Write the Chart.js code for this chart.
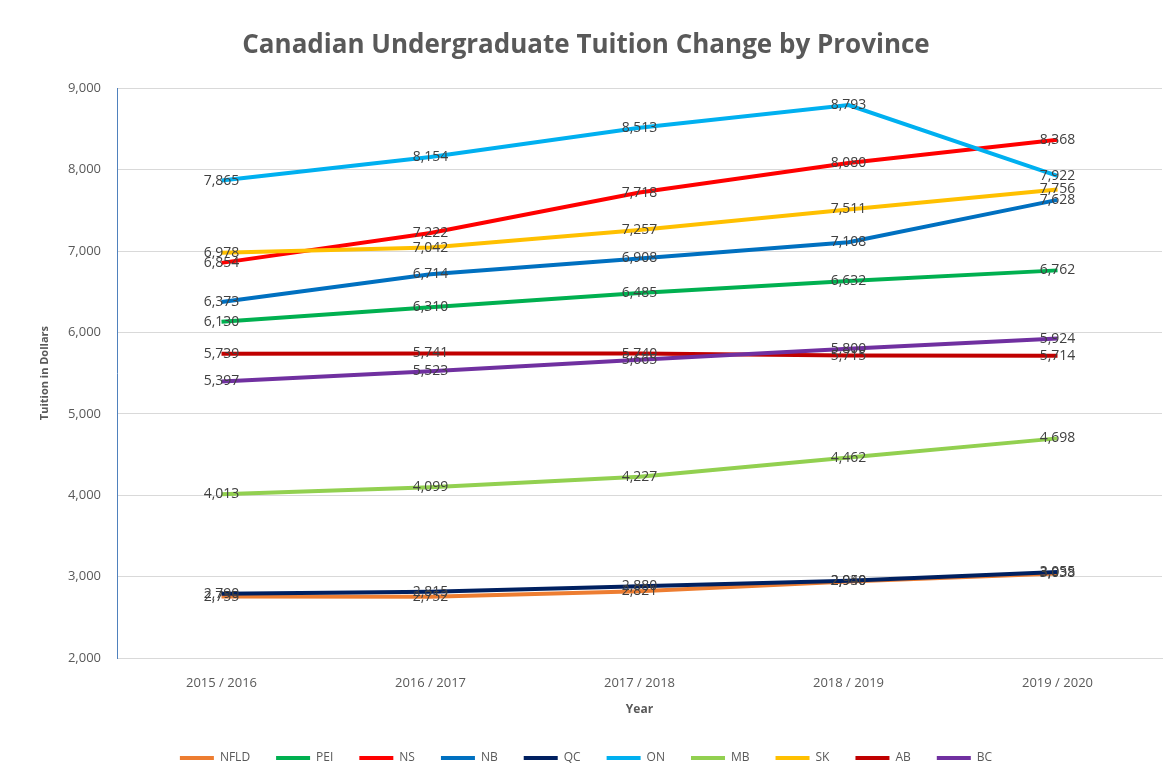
<!DOCTYPE html>
<html><head><meta charset="utf-8">
<script src="https://cdn.jsdelivr.net/npm/chart.js@4/dist/chart.umd.min.js"></script>
<style>html,body{margin:0;padding:0;background:#fff}canvas{display:block}</style>
</head><body>
<canvas id="c" width="1176" height="782"></canvas>
<script>
const years = ['2015 / 2016', '2016 / 2017', '2017 / 2018', '2018 / 2019', '2019 / 2020'];
const provinces = ['NFLD', 'PEI', 'NS', 'NB', 'QC', 'ON', 'MB', 'SK', 'AB', 'BC'];
const NFLD = [2755, 2752, 2821, 2940, 3038];
const PEI  = [6130, 6310, 6485, 6632, 6762];
const NS   = [6854, 7222, 7718, 8080, 8368];
const NB   = [6373, 6714, 6908, 7108, 7628];
const QC   = [2790, 2815, 2880, 2950, 3055];
const ON   = [7865, 8154, 8513, 8793, 7922];
const MB   = [4013, 4099, 4227, 4462, 4698];
const SK   = [6978, 7042, 7257, 7511, 7756];
const AB   = [5739, 5741, 5740, 5715, 5714];
const BC   = [5397, 5523, 5665, 5800, 5924];
const yMin = 2000, yMax = 9000, yStep = 1000;
const colors = ['#ED7D31', '#00B050', '#FF0000', '#0070C0', '#002060', '#00B0F0', '#92D050', '#FFC000', '#C00000', '#7030A0'];
const seriesValues = [NFLD, PEI, NS, NB, QC, ON, MB, SK, AB, BC];

const fmt = v => v.toLocaleString('en-US');
const FONT = '"Open Sans", "Liberation Sans", sans-serif';

const datasets = provinces.map((p, i) => ({
  label: p,
  data: seriesValues[i],
  borderColor: colors[i],
  backgroundColor: colors[i],
  borderWidth: 4,
  pointRadius: 0,
  pointHoverRadius: 0,
  tension: 0,
  order: -i
}));

const labelPlugin = {
  id: 'valueLabels',
  afterDatasetsDraw(chart) {
    const ctx = chart.ctx;
    ctx.save();
    ctx.font = '14px ' + FONT;
    ctx.fillStyle = '#404040';
    ctx.textAlign = 'center';
    ctx.textBaseline = 'middle';
    chart.data.datasets.forEach((ds, i) => {
      const meta = chart.getDatasetMeta(i);
      meta.data.forEach((pt, j) => {
        ctx.fillText(fmt(ds.data[j]), pt.x, pt.y);
      });
    });
    ctx.restore();
  }
};

new Chart(document.getElementById('c'), {
  type: 'line',
  data: { labels: years, datasets },
  options: {
    responsive: false,
    animation: false,
    layout: { padding: { left: 10, right: 14, top: 18, bottom: 8 } },
    plugins: {
      tooltip: { enabled: false },
      title: {
        display: true,
        text: 'Canadian Undergraduate Tuition Change by Province',
        color: '#595959',
        font: { family: FONT, size: 26, weight: 'bold' },
        padding: { top: 12, bottom: 27 }
      },
      legend: {
        position: 'bottom',
        labels: {
          color: '#595959',
          font: { family: FONT, size: 12 },
          boxWidth: 34,
          boxHeight: 4,
          padding: 26,
          generateLabels(chart) {
            return chart.data.datasets.map((ds, i) => ({
              text: ds.label,
              fillStyle: ds.borderColor,
              strokeStyle: ds.borderColor,
              lineWidth: 0,
              hidden: false,
              datasetIndex: i,
              fontColor: '#595959'
            }));
          }
        }
      }
    },
    scales: {
      x: {
        offset: true,
        grid: { display: false, drawTicks: false },
        border: { display: true, color: '#d9d9d9' },
        ticks: { color: '#595959', font: { family: FONT, size: 13 }, padding: 17, maxRotation: 0 },
        title: { display: true, text: 'Year', color: '#595959', font: { family: FONT, size: 12, weight: 'bold' }, padding: { top: 6, bottom: 9 } },
        afterFit(s) { s.height = 68; }
      },
      y: {
        min: yMin, max: yMax,
        grid: { color: '#d9d9d9', drawTicks: false },
        border: { display: true, color: '#4f81bd', width: 1 },
        ticks: { stepSize: yStep, color: '#595959', font: { family: FONT, size: 13 }, padding: 16, callback: v => fmt(v) },
        title: { display: true, text: 'Tuition in Dollars', color: '#595959', font: { family: FONT, size: 11, weight: 'bold' }, padding: { top: 28, bottom: 0 } },
        afterFit(s) { s.width = 107; }
      }
    }
  },
  plugins: [labelPlugin]
});
</script>
</body></html>
